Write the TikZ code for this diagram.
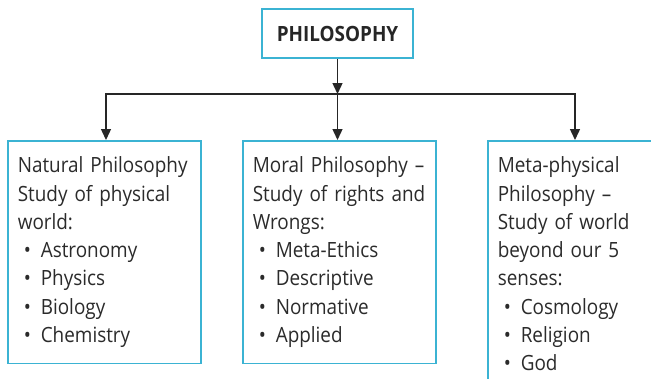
\documentclass[tikz,border=0pt]{standalone}
\usepackage{fontspec}
\setmainfont{Open Sans}[FakeStretch=0.9]
\usetikzlibrary{positioning,arrows.meta}
\definecolor{boxblue}{HTML}{3BB3D3}
\definecolor{inkgray}{HTML}{2B2B2B}
\newcommand\bitem[1]{\hspace*{6pt}\makebox[17pt][l]{•}#1}
\tikzset{
  topbox/.style={draw=boxblue,line width=1.6pt,minimum width=151pt,minimum height=49pt,
    text=black!85,font=\fontsize{21}{24}\selectfont\bfseries},
  branch/.style={draw=boxblue,line width=1.6pt,anchor=north west,text width=173pt,
    inner xsep=10pt,inner ysep=#1,align=left,text=inkgray,font=\fontsize{21}{28.3}\selectfont},
  link/.style={line width=1.4pt,draw=black!85,-{Triangle[length=11pt,width=10pt]}}
}
\begin{document}
\begin{tikzpicture}[x=1pt,y=-1pt]
\useasboundingbox (0,0) rectangle (651,378);
\clip (0,0) rectangle (651,378);
\fill[white] (0,0) rectangle (651,378);
\node[topbox] (top) at (337.5,33.5) {PHILOSOPHY};
\node[branch=16pt] (natural) at (7,140) {Natural Philosophy\\Study of physical\\world:\\
  \bitem{Astronomy}\\\bitem{Physics}\\\bitem{Biology}\\\bitem{Chemistry}};
\node[branch=16pt] (moral) at (242,140) {Moral Philosophy –\\Study of rights and\\Wrongs:\\
  \bitem{Meta-Ethics}\\\bitem{Descriptive}\\\bitem{Normative}\\\bitem{Applied}};
\node[branch=16pt] (meta) at (487,140) {Meta-physical\\Philosophy –\\Study of world\\beyond our 5\\senses:\\
  \bitem{Cosmology}\\\bitem{Religion}\\\bitem{God}};
\coordinate (hub) at (337.5,94);
\draw[link] (top) -- (hub);
\draw[link] (hub) -- (hub |- moral.north);
\draw[link] (hub) -| ([xshift=99pt]natural.north west);
\draw[link] (hub) -| ([xshift=88pt]meta.north west);
\end{tikzpicture}
\end{document}
